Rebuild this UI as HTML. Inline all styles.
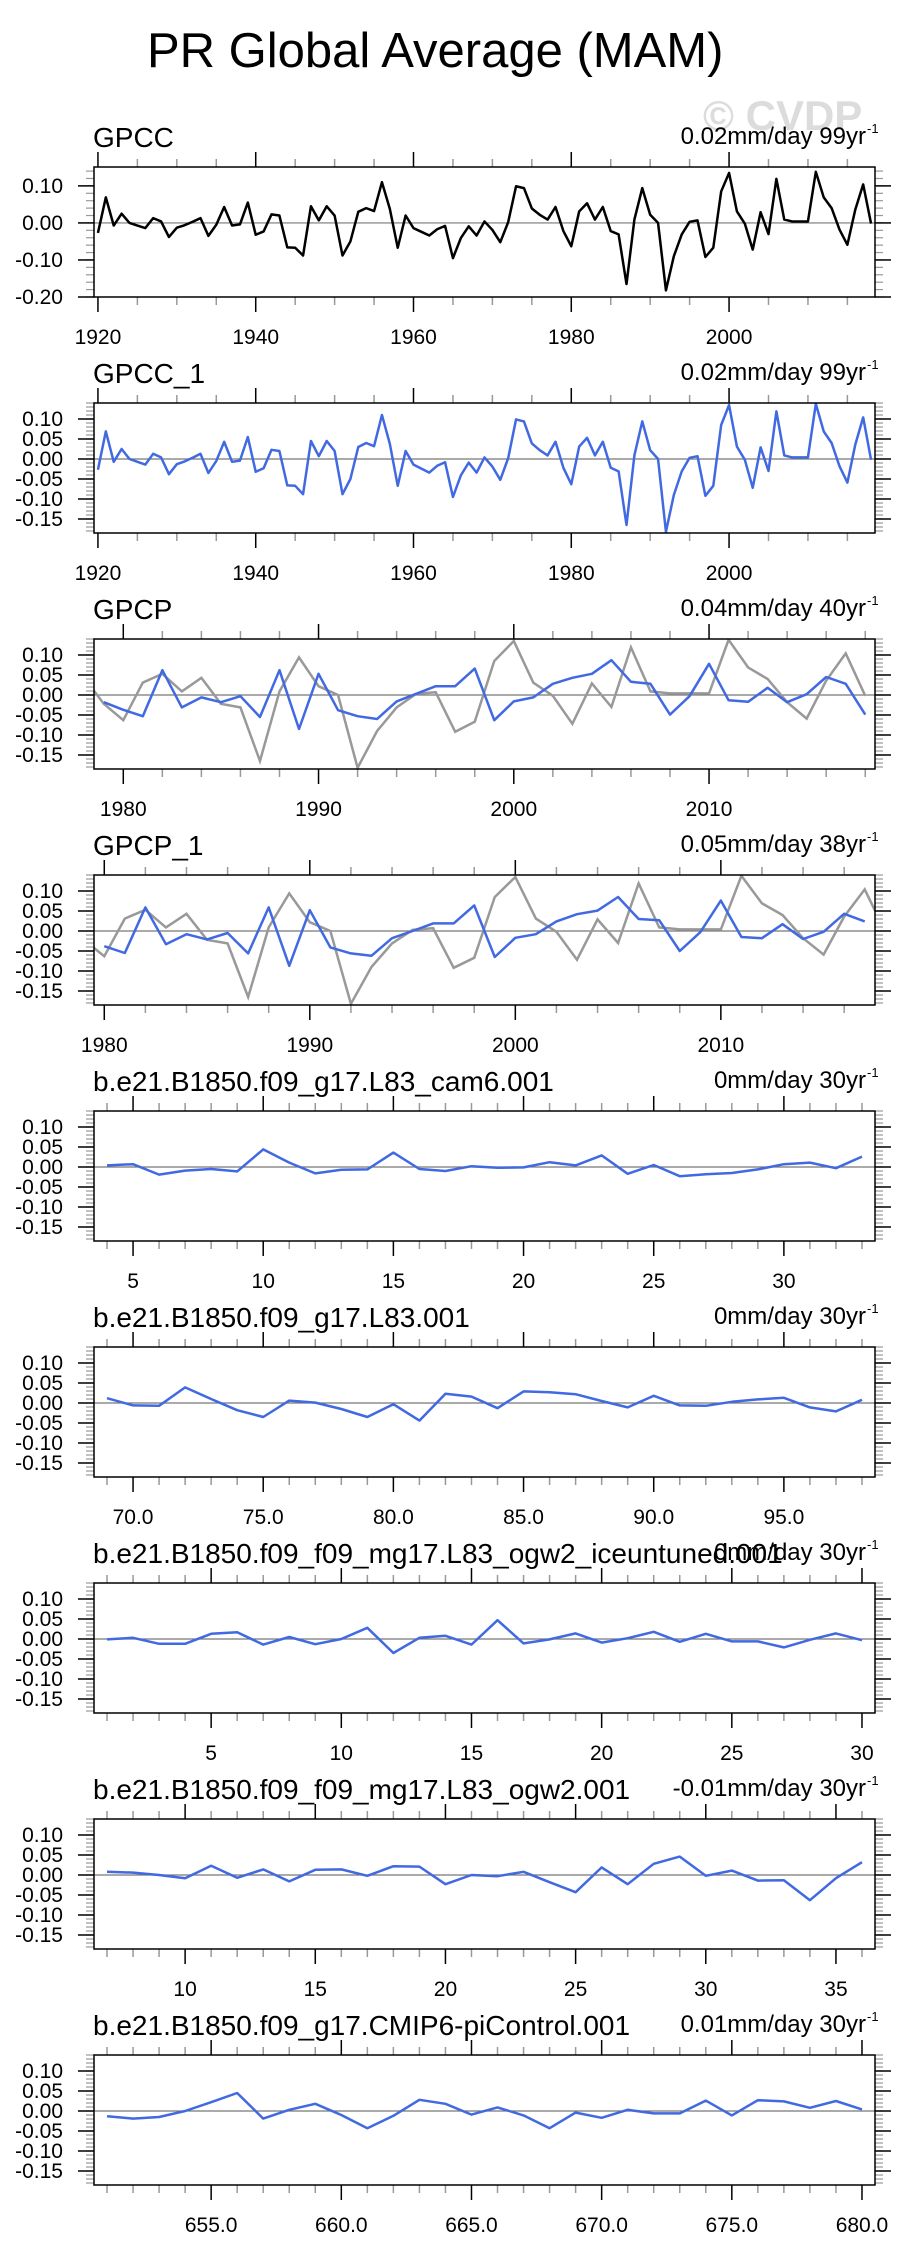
<!DOCTYPE html>
<html><head><meta charset="utf-8"><style>
html,body{margin:0;padding:0;background:#fff;}
svg{display:block;font-family:"Liberation Sans",Arial,sans-serif;}
</style></head><body>
<svg id="chart" width="907" height="2263" viewBox="0 0 907 2263" xmlns="http://www.w3.org/2000/svg">
<text x="147" y="67" font-size="49" fill="#000">PR Global Average (MAM)</text>
<text x="703" y="130" font-size="42" font-weight="bold" fill="#dcdcdc">© CVDP</text>
</svg>
<script>
const gpccYears = [];
for (let y = 1920; y <= 2018; y++) gpccYears.push(y);
const gpccValues = [-0.027,0.069,-0.007,0.025,0.0,-0.007,-0.014,0.013,0.004,-0.038,-0.013,-0.006,0.003,0.013,-0.035,-0.005,0.043,-0.007,-0.004,0.055,-0.032,-0.023,0.023,0.020,-0.066,-0.067,-0.088,0.045,0.007,0.045,0.020,-0.088,-0.050,0.030,0.040,0.032,0.110,0.038,-0.067,0.020,-0.014,-0.024,-0.034,-0.017,-0.008,-0.095,-0.041,-0.009,-0.034,0.004,-0.019,-0.052,0.002,0.099,0.094,0.039,0.022,0.009,0.043,-0.022,-0.063,0.031,0.053,0.009,0.043,-0.022,-0.031,-0.165,0.009,0.094,0.022,0.0,-0.182,-0.090,-0.031,0.003,0.007,-0.092,-0.067,0.085,0.135,0.031,-0.002,-0.072,0.029,-0.030,0.119,0.009,0.004,0.004,0.004,0.138,0.069,0.040,-0.018,-0.059,0.036,0.104,-0.002];
const gpcpYears = [];
for (let y = 1979; y <= 2018; y++) gpcpYears.push(y);
const gpcpValues = [-0.018,-0.037,-0.053,0.062,-0.031,-0.006,-0.018,-0.003,-0.055,0.062,-0.085,0.053,-0.038,-0.053,-0.060,-0.016,0.003,0.022,0.022,0.066,-0.063,-0.016,-0.006,0.028,0.043,0.053,0.087,0.033,0.028,-0.049,-0.003,0.078,-0.013,-0.017,0.018,-0.018,0.002,0.045,0.028,-0.049];
const gpcp1Years = [];
for (let y = 1980; y <= 2017; y++) gpcp1Years.push(y);
const gpcp1Values = [-0.038,-0.055,0.059,-0.033,-0.008,-0.021,-0.005,-0.056,0.059,-0.087,0.052,-0.041,-0.056,-0.062,-0.018,0.0,0.019,0.019,0.064,-0.065,-0.017,-0.008,0.024,0.042,0.051,0.085,0.030,0.027,-0.050,-0.003,0.076,-0.015,-0.018,0.017,-0.020,-0.002,0.043,0.024];
const cam6Start = 4;
const cam6Values = [0.004,0.007,-0.019,-0.009,-0.005,-0.011,0.044,0.011,-0.016,-0.007,-0.006,0.036,-0.005,-0.010,0.002,-0.002,-0.001,0.012,0.004,0.029,-0.017,0.005,-0.023,-0.018,-0.015,-0.006,0.007,0.011,-0.003,0.026];
const l83Start = 69;
const l83Values = [0.012,-0.006,-0.007,0.039,0.010,-0.018,-0.035,0.006,0.001,-0.015,-0.035,-0.003,-0.044,0.023,0.016,-0.013,0.029,0.027,0.022,0.005,-0.011,0.018,-0.006,-0.007,0.003,0.009,0.013,-0.011,-0.021,0.008];
const iceStart = 1;
const iceValues = [-0.001,0.003,-0.012,-0.012,0.013,0.017,-0.014,0.005,-0.013,0.0,0.028,-0.035,0.003,0.008,-0.014,0.047,-0.011,-0.001,0.014,-0.009,0.002,0.018,-0.007,0.013,-0.006,-0.006,-0.021,-0.002,0.014,-0.003];
const ogw2Start = 7;
const ogw2Values = [0.008,0.006,0.0,-0.008,0.023,-0.007,0.014,-0.016,0.013,0.014,-0.002,0.022,0.021,-0.023,0.0,-0.003,0.008,-0.018,-0.043,0.019,-0.023,0.028,0.046,-0.002,0.011,-0.014,-0.013,-0.063,-0.008,0.032];
const piStart = 651;
const piValues = [-0.013,-0.019,-0.015,0.0,0.022,0.045,-0.019,0.003,0.018,-0.010,-0.043,-0.012,0.028,0.018,-0.009,0.009,-0.011,-0.043,-0.004,-0.017,0.003,-0.006,-0.006,0.026,-0.011,0.027,0.024,0.008,0.025,0.004];
const panelTitles = ["GPCC","GPCC_1","GPCP","GPCP_1","b.e21.B1850.f09_g17.L83_cam6.001","b.e21.B1850.f09_g17.L83.001","b.e21.B1850.f09_f09_mg17.L83_ogw2_iceuntuned.001","b.e21.B1850.f09_f09_mg17.L83_ogw2.001","b.e21.B1850.f09_g17.CMIP6-piControl.001"];
const trendLabels = ["0.02mm/day 99yr","0.02mm/day 99yr","0.04mm/day 40yr","0.05mm/day 38yr","0mm/day 30yr","0mm/day 30yr","0mm/day 30yr","-0.01mm/day 30yr","0.01mm/day 30yr"];

const NS = "http://www.w3.org/2000/svg";
const svg = document.getElementById("chart");
function mk(tag, attrs, parent) {
  const e = document.createElementNS(NS, tag);
  for (const k in attrs) e.setAttribute(k, attrs[k]);
  (parent || svg).appendChild(e);
  return e;
}
function seq(start, n) { const a = []; for (let i = 0; i < n; i++) a.push(start + i); return a; }

const BL = 94, BR = 875, BH = 130;
const panels = [
  {xs: gpccYears, ys: gpccValues, color: "#000", x0: 1919.5, x1: 2018.5, y0: -0.2, y1: 0.151, major: 20, minor: 5, fmt: 0, yMajor: [-0.2,-0.1,0,0.1], yMinorStep: 0.02, yFmt: 2},
  {xs: gpccYears, ys: gpccValues, color: "#4169e1", x0: 1919.5, x1: 2018.5, y0: -0.185, y1: 0.14, major: 20, minor: 5, fmt: 0},
  {xs: gpcpYears, ys: gpcpValues, color: "#4169e1", gray: true, x0: 1978.5, x1: 2018.5, y0: -0.185, y1: 0.14, major: 10, minor: 2, fmt: 0},
  {xs: gpcp1Years, ys: gpcp1Values, color: "#4169e1", gray: true, x0: 1979.5, x1: 2017.5, y0: -0.185, y1: 0.14, major: 10, minor: 2, fmt: 0},
  {xs: seq(cam6Start, cam6Values.length), ys: cam6Values, color: "#4169e1", major: 5, minor: 1, fmt: 0},
  {xs: seq(l83Start, l83Values.length), ys: l83Values, color: "#4169e1", major: 5, minor: 1, fmt: 1},
  {xs: seq(iceStart, iceValues.length), ys: iceValues, color: "#4169e1", major: 5, minor: 1, fmt: 0},
  {xs: seq(ogw2Start, ogw2Values.length), ys: ogw2Values, color: "#4169e1", major: 5, minor: 1, fmt: 0},
  {xs: seq(piStart, piValues.length), ys: piValues, color: "#4169e1", major: 5, minor: 1, fmt: 1}
];

panels.forEach((p, i) => {
  if (p.x0 === undefined) { p.x0 = p.xs[0] - 0.5; p.x1 = p.xs[p.xs.length - 1] + 0.5; }
  if (p.y0 === undefined) { p.y0 = -0.185; p.y1 = 0.14; }
  if (!p.yMajor) { p.yMajor = [-0.15,-0.1,-0.05,0,0.05,0.1]; p.yMinorStep = 0.01; p.yFmt = 2; }
  const top = 167 + 236 * i, bot = top + BH;
  const sx = v => BL + (v - p.x0) / (p.x1 - p.x0) * (BR - BL);
  const sy = v => bot - (v - p.y0) / (p.y1 - p.y0) * BH;
  const g = mk("g", {});
  
  

  const t = mk("text", {x: 93, y: top - 20, "font-size": 28, fill: "#000"}, g);
  t.textContent = panelTitles[i];
  
  
  const tr = mk("text", {x: 866, y: top - 23, "font-size": 24, "text-anchor": "end", fill: "#000"}, g);
  tr.textContent = trendLabels[i];
  
  
  const sup = mk("text", {x: 867, y: top - 34, "font-size": 13, fill: "#000"}, g);
  sup.textContent = "-1";
  
  

  const xStart = Math.ceil(p.x0 / p.minor) * p.minor;
  for (let v = xStart; v <= p.x1 + 1e-9; v += p.minor) {
    const x = sx(v);
    const isMaj = Math.abs(v / p.major - Math.round(v / p.major)) < 1e-6;
    const len = isMaj ? 15 : 8;
    const col = isMaj ? "#000" : "#999";
    const tk1 = mk("line", {x1: x, x2: x, y1: top, y2: top - len, stroke: col, "stroke-width": 1.5}, g);
    
    
    const tk2 = mk("line", {x1: x, x2: x, y1: bot, y2: bot + len, stroke: col, "stroke-width": 1.5}, g);
    
    
    if (isMaj) {
      const lb = mk("text", {x: x, y: bot + 47, "font-size": 21, "text-anchor": "middle", fill: "#000"}, g);
      lb.textContent = v.toFixed(p.fmt);
      
      
    }
  }
  const st = p.yMinorStep;
  for (let k = Math.ceil(p.y0 / st - 1e-9); k * st <= p.y1 + 1e-9; k++) {
    const y = sy(k * st);
    [[BL, BL - 8], [BR, BR + 8]].forEach(([a, b]) => {
      const m = mk("line", {x1: a, x2: b, y1: y, y2: y, stroke: "#999", "stroke-width": 1.2}, g);
      
      
    });
  }
  p.yMajor.forEach(v => {
    const y = sy(v);
    [[BL, BL - 16], [BR, BR + 16]].forEach(([a, b]) => {
      const m = mk("line", {x1: a, x2: b, y1: y, y2: y, stroke: "#000", "stroke-width": 1.5}, g);
      
      
    });
    const lb = mk("text", {x: 63, y: y + 7, "font-size": 21, "text-anchor": "end", fill: "#000"}, g);
    lb.textContent = v.toFixed(p.yFmt);
    
    
  });

  const cp = mk("clipPath", {id: "clip" + i}, g);
  mk("rect", {x: BL, y: top, width: BR - BL, height: BH}, cp);

  const z = mk("line", {x1: BL, x2: BR, y1: sy(0), y2: sy(0), stroke: "#777", "stroke-width": 1.2}, g);
  
  

  if (p.gray) {
    const pts = gpccYears.map((yr, j) => sx(yr).toFixed(2) + "," + sy(gpccValues[j]).toFixed(2)).join(" ");
    const gl = mk("polyline", {points: pts, fill: "none", stroke: "#999", "stroke-width": 2.5, "clip-path": "url(#clip" + i + ")"}, g);
    
    
  }
  const pts = p.xs.map((xv, j) => sx(xv).toFixed(2) + "," + sy(p.ys[j]).toFixed(2)).join(" ");
  const ln = mk("polyline", {points: pts, fill: "none", stroke: p.color, "stroke-width": 2.5, "stroke-linejoin": "round", "clip-path": "url(#clip" + i + ")"}, g);
  
  

  const box = mk("rect", {x: BL, y: top, width: BR - BL, height: BH, fill: "none", stroke: "#000", "stroke-width": 1.5}, g);
  
  
});
</script>
</body></html>
